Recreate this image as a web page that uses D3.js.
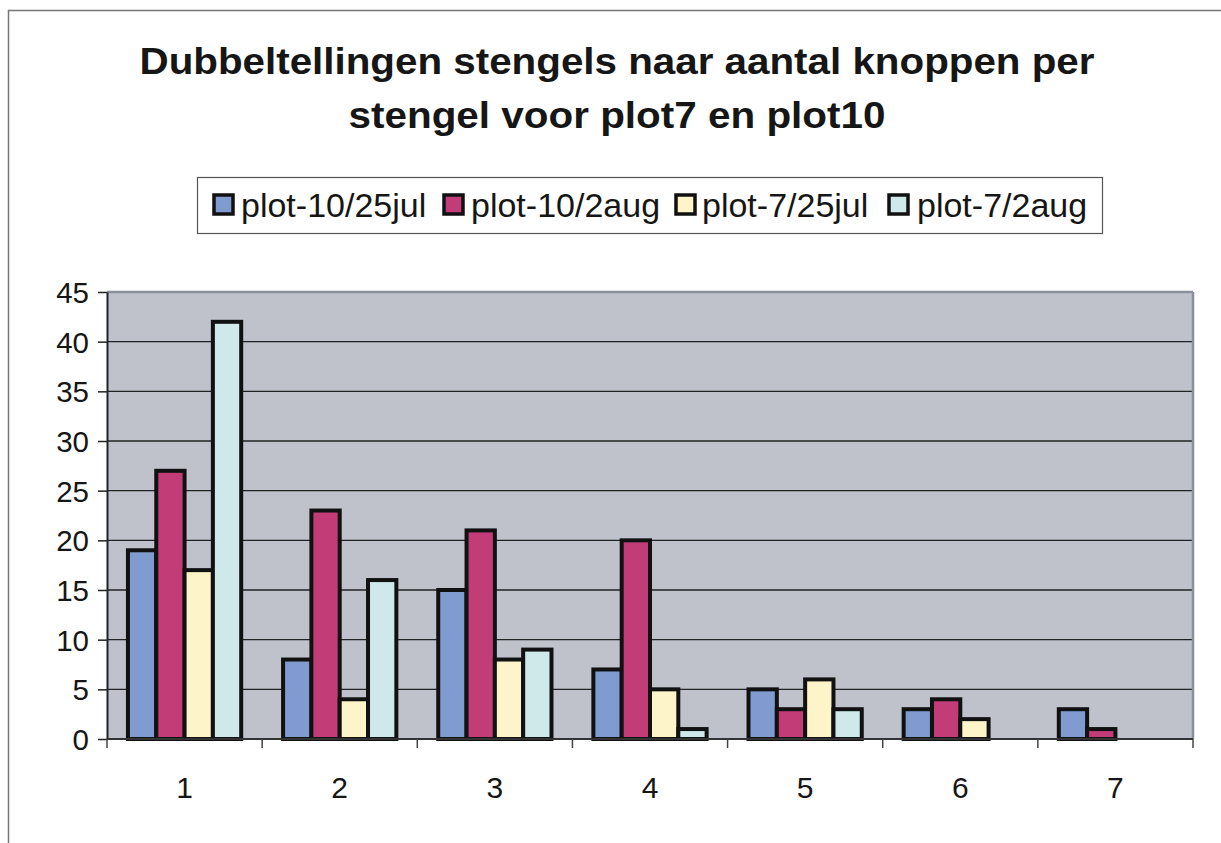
<!DOCTYPE html>
<html><head><meta charset="utf-8">
<script src="https://d3js.org/d3.v7.min.js"></script>
<style>body{margin:0;background:#fff}svg{display:block}</style>
</head><body>
<script>
const categories = ["1","2","3","4","5","6","7"];
const seriesNames = ["plot-10/25jul","plot-10/2aug","plot-7/25jul","plot-7/2aug"];
const s10_25jul = [19, 8, 15, 7, 5, 3, 3];
const s10_2aug  = [27, 23, 21, 20, 3, 4, 1];
const s7_25jul  = [17, 4, 8, 5, 6, 2, 0];
const s7_2aug   = [42, 16, 9, 1, 3, 0, 0];
const yTicks = [0,5,10,15,20,25,30,35,40,45];
const titleLines = ["Dubbeltellingen stengels naar aantal knoppen per", "stengel voor plot7 en plot10"];
const colors = ["#7f9bd0","#c23d78","#fdf4c9","#cfe8ea"];
const series = [s10_25jul, s10_2aug, s7_25jul, s7_2aug];

const W = 1221, H = 843;
const svg = d3.select("body").append("svg").attr("width", W).attr("height", H);
const font = "Liberation Sans, Arial, sans-serif";

// outer border
svg.append("rect").attr("x",8.5).attr("y",10.5).attr("width",1240).attr("height",860)
  .attr("fill","#fff").attr("stroke","#777").attr("stroke-width",1.5);

// title
const titleY = [74, 128], titleW = [955, 537];
titleLines.forEach((t,i)=>{
  svg.append("text").attr("x",617 - titleW[i]/2).attr("y",titleY[i])
    .attr("textLength",titleW[i]).attr("lengthAdjust","spacingAndGlyphs")
    .attr("font-family",font).attr("font-weight","bold").attr("font-size",37).attr("fill","#161616").text(t);
});

// legend
const lg = svg.append("g");
lg.append("rect").attr("x",197.5).attr("y",177.5).attr("width",905).attr("height",56)
  .attr("fill","#fff").attr("stroke","#555").attr("stroke-width",1.2);
const legSq = [214, 444, 676, 889], legTx = [241, 471, 702, 917];
seriesNames.forEach((n,i)=>{
  lg.append("rect").attr("x",legSq[i]).attr("y",195).attr("width",19).attr("height",19)
    .attr("fill",colors[i]).attr("stroke","#111").attr("stroke-width",3.5);
  lg.append("text").attr("x",legTx[i]).attr("y",217)
    .attr("font-family",font).attr("font-size",34).attr("fill","#161616").text(n);
});

// plot
const pL = 107, pR = 1193, pT = 292, pB = 739;
const x = d3.scaleBand().domain(categories).range([pL,pR]).paddingInner(0.27).paddingOuter(0.135);
const xTickScale = d3.scaleBand().domain(categories).range([pL,pR]);
const y = d3.scaleLinear().domain([0,45]).range([pB,pT]);
const xs = d3.scaleBand().domain(d3.range(4)).range([0,x.bandwidth()]);

svg.append("rect").attr("x",pL).attr("y",pT).attr("width",pR-pL).attr("height",pB-pT)
  .attr("fill","#bfc2cb");
// gridlines
svg.append("g").selectAll("line").data(yTicks.filter(d=>d>0 && d<45)).join("line")
  .attr("x1",pL).attr("x2",pR).attr("y1",d=>y(d)).attr("y2",d=>y(d))
  .attr("stroke","#222").attr("stroke-width",1.3);
// top & right border
svg.append("line").attr("x1",pL).attr("x2",pR).attr("y1",pT).attr("y2",pT).attr("stroke","#8a9099").attr("stroke-width",2.5);
svg.append("line").attr("x1",pR).attr("x2",pR).attr("y1",pT).attr("y2",pB).attr("stroke","#8a9099").attr("stroke-width",2.5);

// bars
const gBars = svg.append("g");
categories.forEach((c,ci)=>{
  series.forEach((s,si)=>{
    const v = s[ci];
    if (v <= 0) return;
    gBars.append("rect").attr("x",x(c)+xs(si)).attr("y",y(v))
      .attr("width",xs.bandwidth()).attr("height",y(0)-y(v))
      .attr("fill",colors[si]).attr("stroke","#111").attr("stroke-width",4);
  });
});

// y axis
const yAxis = d3.axisLeft(y).tickValues(yTicks).tickSize(9).tickSizeOuter(0).tickPadding(9);
const ya = svg.append("g").attr("transform",`translate(${pL},0)`).call(yAxis);
ya.select(".domain").attr("stroke","#222").attr("stroke-width",2);
ya.selectAll(".tick line").attr("stroke","#222").attr("stroke-width",1.5);
ya.selectAll("text").attr("font-family",font).attr("font-size",29.5).attr("fill","#161616").attr("dy","0.36em");

// x axis
const xa = svg.append("g").attr("transform",`translate(0,${pB})`);
xa.append("line").attr("x1",pL).attr("x2",pR).attr("stroke","#333").attr("stroke-width",2);
xa.selectAll("line.tk").data(categories.concat(["end"])).join("line").attr("class","tk")
  .attr("x1",(d,i)=> i<7 ? xTickScale(d) : pR).attr("x2",(d,i)=> i<7 ? xTickScale(d) : pR)
  .attr("y1",0).attr("y2",9).attr("stroke","#444").attr("stroke-width",1.5);
xa.selectAll("text").data(categories).join("text")
  .attr("x",d=>xTickScale(d)+xTickScale.bandwidth()/2).attr("y",59)
  .attr("text-anchor","middle").attr("font-family",font).attr("font-size",30).attr("fill","#161616").text(d=>d);
</script>
</body></html>
